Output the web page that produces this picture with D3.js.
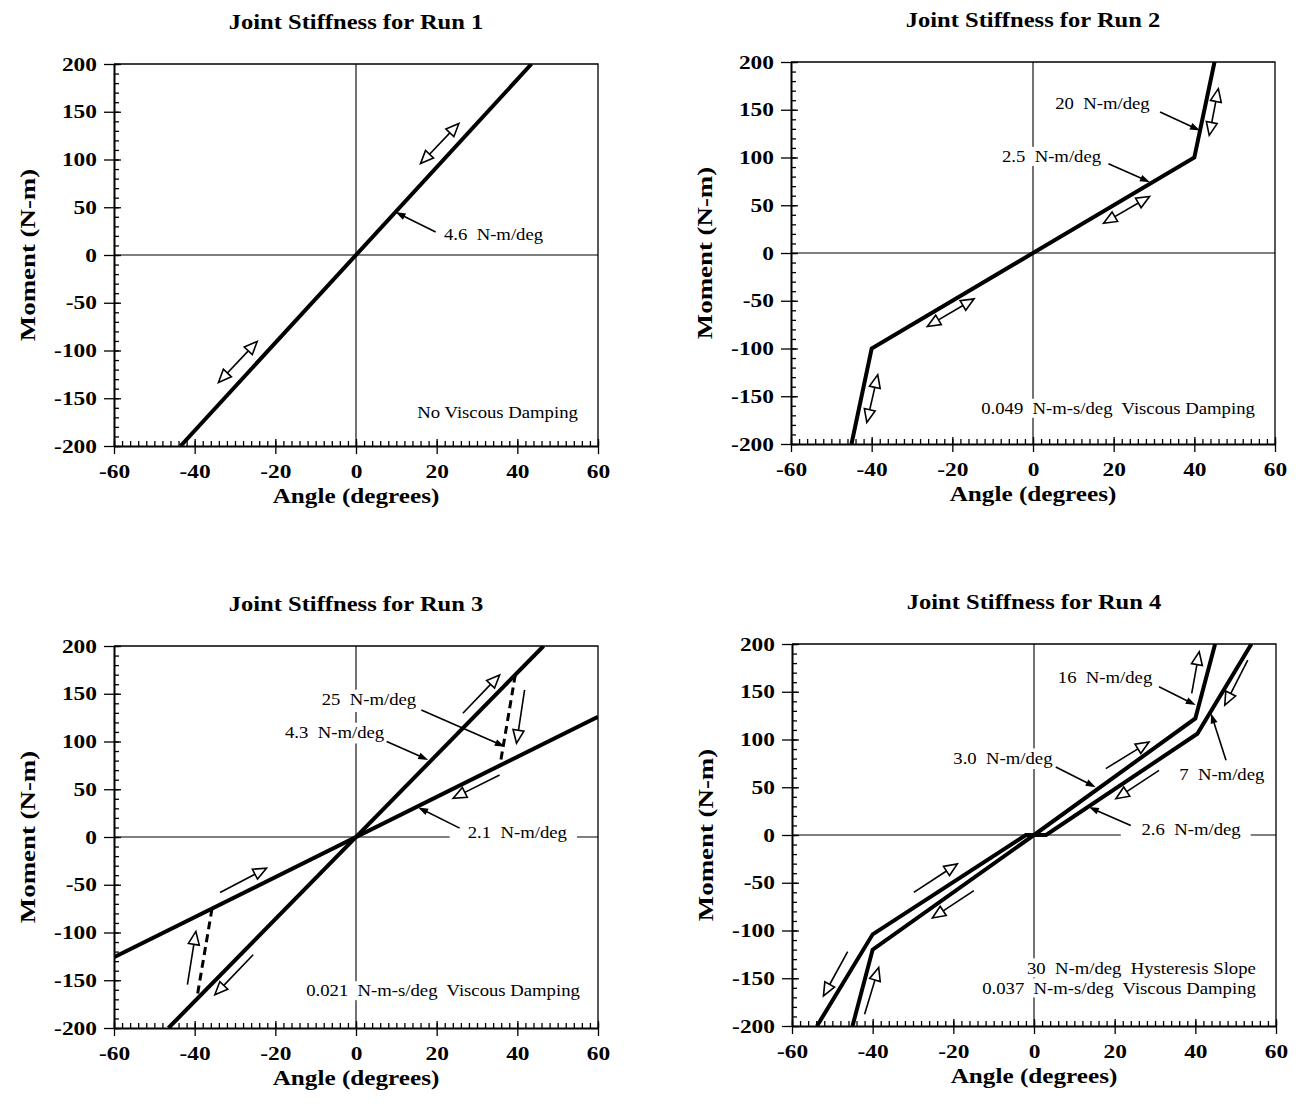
<!DOCTYPE html>
<html>
<head>
<meta charset="utf-8">
<script src="https://cdn.jsdelivr.net/npm/d3@7"></script>
<style>
  body { margin: 0; background: #fff; }
  svg { display: block; }
  text { font-family: "Liberation Serif", "Times New Roman", serif; fill: #000; white-space: pre; }
</style>
</head>
<body>
<div id="container"></div>
<script>
// ---- data ----
const runTitles = ['Joint Stiffness for Run 1', 'Joint Stiffness for Run 2',
                   'Joint Stiffness for Run 3', 'Joint Stiffness for Run 4'];
const xTicks = [-60, -40, -20, 0, 20, 40, 60];
const yTicks = [-200, -150, -100, -50, 0, 50, 100, 150, 200];
const xMinorTicks = d3.range(-60, 61, 2);
const yMinorTicks = d3.range(-200, 201, 10);

// moment-angle curves [angle, moment]
const run1Curve = [[-43.5, -200], [43.5, 200]];
const run2Curve = [[-45, -200], [-40, -100], [40, 100], [45, 200]];
const run3Steep = [[-46.5, -200], [46.5, 200]];
const run3Shallow = [[-60, -126], [60, 126]];
const run3Drops = [[[39.5, 170], [35.7, 75]], [[-35.7, -75], [-39.5, -170]]];
const run4Outer = [[-53.8, -200], [-40, -104], [-2, 0], [3, 0], [40.5, 106], [53.9, 200]];
const run4Inner = [[-45, -200], [-40, -120], [0, 0], [40, 122], [44.9, 200]];

// open direction arrows [x1, y1, x2, y2], head at the second point
const run1Arrows = [[16.0, 95.7, 25.5, 137.7], [-34.1, -133.5, -24.5, -90.5]];
const run2Arrows = [[43.7, 123.2, 45.95, 172.1], [17.5, 31.2, 28.9, 59.2],
                    [-26.2, -77, -14.6, -48], [-41.2, -177.4, -38.5, -127.4]];
const run3Arrows = [[26.5, 129.6, 35.6, 169.7], [41.8, 154, 39.8, 98.2],
                    [35.6, 65, 24.1, 40.6], [-33.7, -58.1, -22.2, -32.6],
                    [-41.8, -154.7, -39.7, -98.9], [-25.5, -123.3, -35, -165.2]];
const run4Arrows = [[39.1, 148.2, 40.96, 191.9], [53.0, 183.2, 47.3, 136],
                    [17.8, 69.5, 28.5, 97.4], [31.0, 67.7, 20.3, 38.0],
                    [-29.8, -60.1, -19.0, -30.2], [-14.9, -58.3, -25.2, -86.9],
                    [-46.2, -122, -52.2, -168.5], [-42.0, -187.7, -38.5, -138.8]];

// annotations
const run1Labels = [
  {text: '4.6  N-m/deg', x: 21.8, y: 15.2, leader: [19.75, 24.0, 9.8, 44.9]},
  {text: 'No Viscous Damping', x: 55, y: -170.3, anchor: 'end'}
];
const run2Labels = [
  {text: '20  N-m/deg', x: 5.5, y: 151.2, leader: [31.5, 147.6, 41.4, 128.4]},
  {text: '2.5  N-m/deg', x: -7.7, y: 95.2, leader: [18.7, 93.5, 29.0, 74.2]},
  {text: '0.049  N-m-s/deg  Viscous Damping', x: 55, y: -168.6, anchor: 'end'}
];
const run3Labels = [
  {text: '25  N-m/deg', x: -8.5, y: 138.3, leader: [16.2, 133, 36.9, 94.6]},
  {text: '4.3  N-m/deg', x: -17.6, y: 103.7, leader: [7.6, 100, 17.9, 80.7]},
  {text: '2.1  N-m/deg', x: 27.7, y: -1.5, leader: [25.7, 9.3, 15.4, 31]},
  {text: '0.021  N-m-s/deg  Viscous Damping', x: 55.5, y: -166.9, anchor: 'end'}
];
const run4Labels = [
  {text: '16  N-m/deg', x: 5.9, y: 158.7, leader: [31.0, 155.2, 40.1, 136]},
  {text: '7  N-m/deg', x: 36.0, y: 57.2, leader: [47.6, 78.2, 43.9, 127.2]},
  {text: '3.0  N-m/deg', x: -20.0, y: 74.7, leader: [5.4, 71.2, 15.3, 50]},
  {text: '2.6  N-m/deg', x: 26.65, y: -0.5, leader: [24.0, 10, 13.6, 29.2]},
  {text: '30  N-m/deg  Hysteresis Slope', x: 55, y: -145.1, anchor: 'end'},
  {text: '0.037  N-m-s/deg  Viscous Damping', x: 55, y: -166.1, anchor: 'end'}
];

const runs = [
  {curves: [run1Curve], drops: [], arrows: run1Arrows, double: true, labels: run1Labels},
  {curves: [run2Curve], drops: [], arrows: run2Arrows, double: true, labels: run2Labels},
  {curves: [run3Steep, run3Shallow], drops: run3Drops, arrows: run3Arrows, double: false, labels: run3Labels},
  {curves: [run4Outer, run4Inner], drops: [], arrows: run4Arrows, double: false, labels: run4Labels}
];

// ---- layout ----
const W = 484, H = 382;
const panelPos = [[114, 64], [791, 62], [114, 646], [792, 644]];

const svg = d3.select('#container').append('svg')
  .attr('width', 1301)
  .attr('height', 1105);

const x = d3.scaleLinear().domain([-60, 60]).range([0, W]);
const y = d3.scaleLinear().domain([-200, 200]).range([H, 0]);
const line = d3.line().x(d => x(d[0])).y(d => y(d[1]));

function headPath(tip, ux, uy, len, hw) {
  const bx = tip[0] - ux * len, by = tip[1] - uy * len;
  return `M${tip[0]},${tip[1]}L${bx - uy * hw},${by + ux * hw}L${bx + uy * hw},${by - ux * hw}Z`;
}

runs.forEach((run, i) => {
  const [left, top] = panelPos[i];
  const g = svg.append('g').attr('transform', `translate(${left},${top})`);

  g.append('defs').append('clipPath').attr('id', 'clip' + i)
    .append('rect').attr('width', W).attr('height', H);

  // title
  g.append('text')
    .attr('transform', `translate(${W / 2},-35) scale(1.17,1)`)
    .attr('text-anchor', 'middle')
    .attr('font-size', 21)
    .attr('font-weight', 'bold')
    .text(runTitles[i]);

  // frame top/right and zero lines
  g.append('path').attr('d', `M0,0H${W}V${H}`).attr('fill', 'none')
    .attr('stroke', '#000').attr('stroke-width', 1.3);
  g.append('line').attr('x1', x(0)).attr('x2', x(0)).attr('y1', 0).attr('y2', H)
    .attr('stroke', '#000').attr('stroke-width', 1.1);
  g.append('line').attr('x1', 0).attr('x2', W).attr('y1', y(0)).attr('y2', y(0))
    .attr('stroke', '#000').attr('stroke-width', 1.1);

  const boxLayer = g.append('g');
  const axisLayer = g.append('g');
  const markLayer = g.append('g').attr('clip-path', `url(#clip${i})`);
  const arrowLayer = g.append('g');
  const textLayer = g.append('g');

  // y axis
  const yAxis = axisLayer.append('g')
    .call(d3.axisLeft(y).tickValues(yTicks).tickSize(10).tickSizeOuter(0).tickFormat(d => String(d)));
  yAxis.select('.domain').attr('stroke-width', 2);
  yAxis.selectAll('text')
    .attr('x', null).attr('dy', '0.34em')
    .attr('transform', 'translate(-17,0) scale(1.3,1)')
    .attr('font-size', 18).attr('font-weight', 'bold')
    .attr('font-family', '"Liberation Serif", serif');
  axisLayer.append('g').call(d3.axisLeft(y).tickValues(yTicks).tickSize(-7).tickFormat(''))
    .select('.domain').remove();
  axisLayer.append('g').call(d3.axisLeft(y).tickValues(yMinorTicks).tickSize(-5).tickFormat(''))
    .select('.domain').remove();

  // x axis
  const xAxis = axisLayer.append('g').attr('transform', `translate(0,${H})`)
    .call(d3.axisBottom(x).tickValues(xTicks).tickSize(8).tickSizeOuter(0).tickFormat(d => String(d)));
  xAxis.select('.domain').attr('stroke-width', 2);
  xAxis.selectAll('text')
    .attr('y', null).attr('dy', null)
    .attr('transform', 'translate(0,32) scale(1.3,1)')
    .attr('font-size', 18).attr('font-weight', 'bold')
    .attr('font-family', '"Liberation Serif", serif');
  axisLayer.append('g').attr('transform', `translate(0,${H})`)
    .call(d3.axisBottom(x).tickValues(xTicks).tickSize(-7).tickFormat(''))
    .select('.domain').remove();
  axisLayer.append('g').attr('transform', `translate(0,${H})`)
    .call(d3.axisBottom(x).tickValues(xMinorTicks).tickSize(-5).tickFormat(''))
    .select('.domain').remove();
  axisLayer.selectAll('.tick line').attr('stroke-width', 1.3);

  // axis titles
  g.append('text')
    .attr('transform', `translate(${W / 2},${H + 57}) scale(1.26,1)`)
    .attr('text-anchor', 'middle')
    .attr('font-size', 20).attr('font-weight', 'bold')
    .text('Angle (degrees)');
  g.append('text')
    .attr('transform', `translate(-79,${H / 2}) rotate(-90) scale(1.28,1)`)
    .attr('text-anchor', 'middle')
    .attr('font-size', 21).attr('font-weight', 'bold')
    .text('Moment (N-m)');

  // curves
  markLayer.selectAll('.curve').data(run.curves).enter()
    .append('path').attr('class', 'curve')
    .attr('d', line)
    .attr('fill', 'none').attr('stroke', '#000').attr('stroke-width', 4)
    .attr('stroke-linejoin', 'miter');
  markLayer.selectAll('.drop').data(run.drops).enter()
    .append('path').attr('class', 'drop')
    .attr('d', line)
    .attr('fill', 'none').attr('stroke', '#000').attr('stroke-width', 3)
    .attr('stroke-dasharray', '8,5');

  // open arrows
  run.arrows.forEach(a => {
    const p1 = [x(a[0]), y(a[1])], p2 = [x(a[2]), y(a[3])];
    const len = Math.hypot(p2[0] - p1[0], p2[1] - p1[1]);
    const ux = (p2[0] - p1[0]) / len, uy = (p2[1] - p1[1]) / len;
    const hl = 13, hw = 5.5;
    const s = run.double ? [p1[0] + ux * hl, p1[1] + uy * hl] : p1;
    arrowLayer.append('line')
      .attr('x1', s[0]).attr('y1', s[1])
      .attr('x2', p2[0] - ux * hl).attr('y2', p2[1] - uy * hl)
      .attr('stroke', '#000').attr('stroke-width', 1.6);
    arrowLayer.append('path').attr('d', headPath(p2, ux, uy, hl, hw))
      .attr('fill', '#fff').attr('stroke', '#000').attr('stroke-width', 1.6)
      .attr('stroke-linejoin', 'miter');
    if (run.double) {
      arrowLayer.append('path').attr('d', headPath(p1, -ux, -uy, hl, hw))
        .attr('fill', '#fff').attr('stroke', '#000').attr('stroke-width', 1.6);
    }
  });

  // labels with white backing and leaders
  const sx = 1.1;
  run.labels.forEach(l => {
    const tx = x(l.x), ty = y(l.y);
    const t = textLayer.append('text')
      .attr('transform', `translate(${tx},${ty}) scale(${sx},1)`)
      .attr('text-anchor', l.anchor || 'start')
      .attr('font-size', 17)
      .text(l.text);
    const b = t.node().getBBox();
    let x0 = tx + b.x * sx, x1 = tx + (b.x + b.width) * sx;
    let y0 = ty + b.y + 2, y1 = ty + b.y + b.height - 2;
    if (l.leader) {
      const q1 = [x(l.leader[0]), y(l.leader[1])], q2 = [x(l.leader[2]), y(l.leader[3])];
      x0 = Math.min(x0, q1[0]); x1 = Math.max(x1, q1[0]);
      y0 = Math.min(y0, q1[1]); y1 = Math.max(y1, q1[1]);
      const len = Math.hypot(q2[0] - q1[0], q2[1] - q1[1]);
      const ux = (q2[0] - q1[0]) / len, uy = (q2[1] - q1[1]) / len;
      textLayer.append('line')
        .attr('x1', q1[0]).attr('y1', q1[1])
        .attr('x2', q2[0] - ux * 7).attr('y2', q2[1] - uy * 7)
        .attr('stroke', '#000').attr('stroke-width', 1.6);
      textLayer.append('path').attr('d', headPath(q2, ux, uy, 10, 3.5))
        .attr('fill', '#000');
    }
    boxLayer.append('rect')
      .attr('x', x0 - 10).attr('y', y0 - 2)
      .attr('width', x1 - x0 + 20).attr('height', y1 - y0 + 4)
      .attr('fill', '#fff');
  });
});
</script>
</body>
</html>
